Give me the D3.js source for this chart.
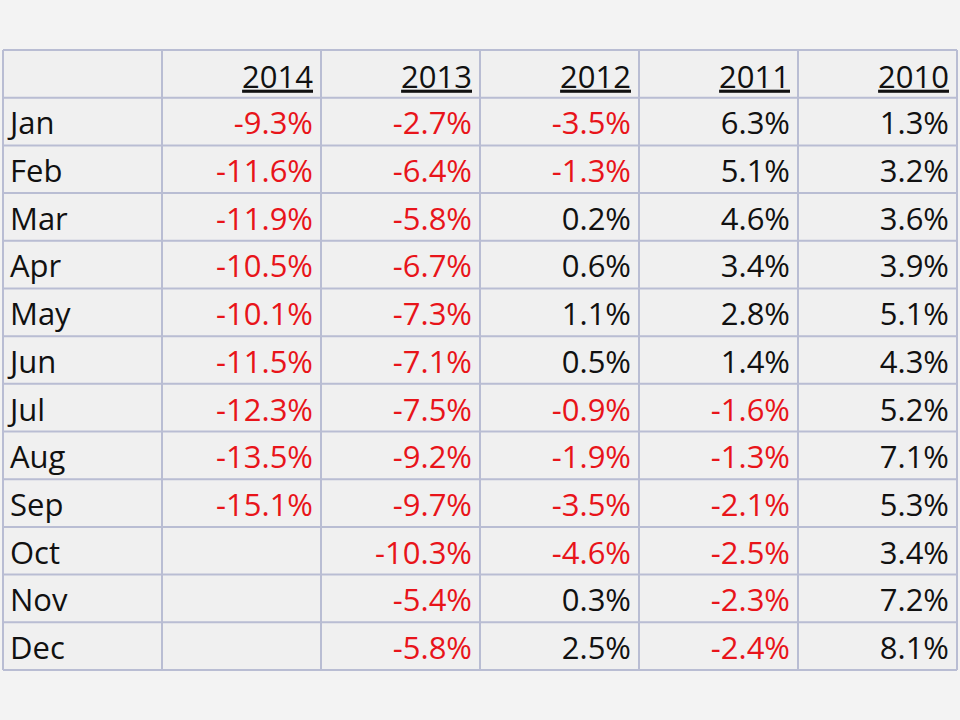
<!DOCTYPE html>
<html>
<head>
<meta charset="utf-8">
<script src="https://d3js.org/d3.v7.min.js"></script>
<style>
  body { margin: 0; background: #f3f3f3; }
</style>
</head>
<body>
<script>
  const years = ["2014", "2013", "2012", "2011", "2010"];
  const months = ["Jan", "Feb", "Mar", "Apr", "May", "Jun", "Jul", "Aug", "Sep", "Oct", "Nov", "Dec"];
  const v2014 = [-9.3, -11.6, -11.9, -10.5, -10.1, -11.5, -12.3, -13.5, -15.1, null, null, null];
  const v2013 = [-2.7, -6.4, -5.8, -6.7, -7.3, -7.1, -7.5, -9.2, -9.7, -10.3, -5.4, -5.8];
  const v2012 = [-3.5, -1.3, 0.2, 0.6, 1.1, 0.5, -0.9, -1.9, -3.5, -4.6, 0.3, 2.5];
  const v2011 = [6.3, 5.1, 4.6, 3.4, 2.8, 1.4, -1.6, -1.3, -2.1, -2.5, -2.3, -2.4];
  const v2010 = [1.3, 3.2, 3.6, 3.9, 5.1, 4.3, 5.2, 7.1, 5.3, 3.4, 7.2, 8.1];
  const series = [v2014, v2013, v2012, v2011, v2010];

  const W = 960, H = 720;
  const svg = d3.select("body").append("svg").attr("width", W).attr("height", H);
  svg.append("rect").attr("width", W).attr("height", H).attr("fill", "#f3f3f3");

  const cols = ["label"].concat(years);
  const rows = ["head"].concat(months);
  const x = d3.scaleBand().domain(cols).range([3, 957]);
  const y = d3.scaleBand().domain(rows).range([50, 670]);

  const font = "'Open Sans', 'Liberation Sans', sans-serif";
  const fs = 31;
  const grid = "#b9bdd3";

  svg.append("rect").attr("x", 3).attr("y", 50).attr("width", 954).attr("height", 620)
    .attr("fill", "#f0f0f0");

  // grid lines
  svg.selectAll("line.v").data(cols.concat(["end"])).enter().append("line")
    .attr("x1", (d, i) => i < cols.length ? x(d) : x.range()[1])
    .attr("x2", (d, i) => i < cols.length ? x(d) : x.range()[1])
    .attr("y1", 50).attr("y2", 670).attr("stroke", grid).attr("stroke-width", 2);
  svg.selectAll("line.h").data(rows.concat(["end"])).enter().append("line")
    .attr("y1", (d, i) => i < rows.length ? y(d) : y.range()[1])
    .attr("y2", (d, i) => i < rows.length ? y(d) : y.range()[1])
    .attr("x1", 3).attr("x2", 957).attr("stroke", grid).attr("stroke-width", 2);

  const pad = 8;
  // header
  svg.selectAll("text.head").data(years).enter().append("text")
    .attr("x", d => x(d) + x.bandwidth() - pad)
    .attr("y", y("head") + y.bandwidth() - 10)
    .attr("text-anchor", "end").attr("font-family", font).attr("font-size", fs)
    .attr("text-decoration", "underline").attr("fill", "#111").text(d => d);

  // month labels
  svg.selectAll("text.month").data(months).enter().append("text")
    .attr("x", x("label") + 7)
    .attr("y", d => y(d) + y.bandwidth() - 11)
    .attr("font-family", font).attr("font-size", fs).attr("fill", "#111").text(d => d);

  // values
  const cells = [];
  years.forEach((yr, j) => months.forEach((m, i) => {
    if (series[j][i] !== null) cells.push({ yr, m, v: series[j][i] });
  }));
  svg.selectAll("text.val").data(cells).enter().append("text")
    .attr("x", d => x(d.yr) + x.bandwidth() - pad)
    .attr("y", d => y(d.m) + y.bandwidth() - 11)
    .attr("text-anchor", "end").attr("font-family", font).attr("font-size", fs)
    .attr("fill", d => d.v < 0 ? "#e8141a" : "#111")
    .text(d => d.v.toFixed(1) + "%");
</script>
</body>
</html>
